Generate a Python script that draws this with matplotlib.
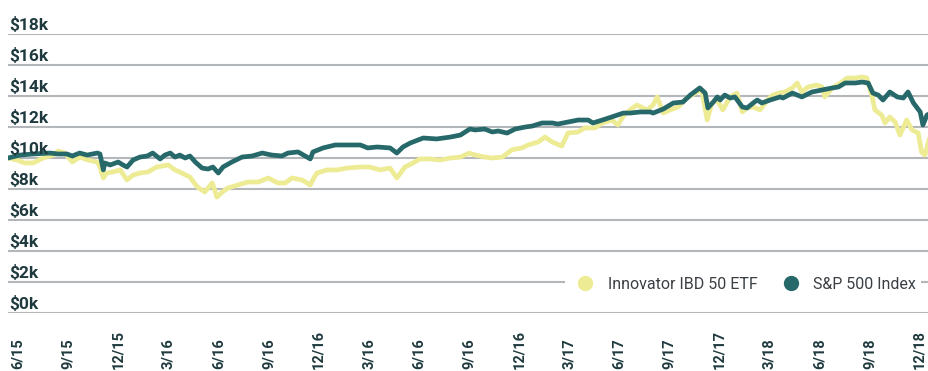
import matplotlib
matplotlib.use("Agg")
import matplotlib.pyplot as plt
import matplotlib.transforms as mtransforms
from matplotlib.lines import Line2D
import numpy as np

# Growth of $10k, days since fund launch (2015-04-09)
sp_days = [0, 18, 37, 62, 74, 87, 95, 106, 117, 132, 136, 141, 143, 151, 163, 170, 176, 185,
           195, 206, 214, 225, 232, 240, 247, 254, 262, 269, 277, 287, 296, 303, 311, 318,
           331, 346, 361, 376, 390, 405, 414, 429, 447, 451, 466, 484, 501, 521, 532, 546,
           565, 575, 584, 595, 614, 634, 654, 669, 683, 691, 705, 716, 725, 738, 750, 765,
           775, 790, 805, 813, 828, 843, 858, 865, 879, 893, 910, 920, 935, 950, 954, 969,
           984, 998, 1009, 1023, 1031, 1035, 1043, 1049, 1053, 1060, 1068, 1075, 1086, 1093,
           1102, 1108, 1115, 1127, 1142, 1146, 1160, 1174, 1189, 1204, 1219, 1228, 1238,
           1253, 1263, 1272, 1279, 1287, 1294, 1304, 1315, 1324, 1331, 1339, 1349, 1353,
           1359, 1362]
sp_values = [10000, 10190, 10260, 10320, 10260, 10260, 10130, 10320, 10190, 10320, 10260,
             9230, 9680, 9550, 9740, 9550, 9420, 9870, 10060, 10130, 10320, 9940, 10190,
             10320, 10060, 10190, 10000, 10130, 9740, 9350, 9290, 9420, 9030, 9420, 9740,
             10060, 10130, 10320, 10190, 10130, 10320, 10390, 9940, 10390, 10650, 10840,
             10840, 10840, 10650, 10710, 10650, 10320, 10710, 10970, 11290, 11230, 11350,
             11480, 11870, 11810, 11870, 11680, 11740, 11610, 11870, 12000, 12060, 12260,
             12260, 12190, 12320, 12450, 12450, 12260, 12450, 12650, 12900, 12900, 12970,
             12970, 12900, 13160, 13550, 13610, 14060, 14520, 14190, 13230, 13610, 13940,
             13740, 14060, 13870, 13940, 13290, 13230, 13550, 13740, 13550, 13740, 13940,
             13870, 14190, 13940, 14260, 14390, 14520, 14580, 14840, 14840, 14900, 14840,
             14190, 14060, 13740, 14260, 13940, 13870, 14260, 13550, 12970, 12130, 12770,
             12840]

etf_days = [0, 13, 25, 37, 52, 67, 74, 84, 95, 106, 118, 132, 136, 141, 146, 155, 166, 176,
            185, 195, 207, 220, 237, 247, 257, 269, 280, 291, 302, 309, 317, 325, 340, 355,
            370, 385, 399, 410, 420, 435, 447, 453, 457, 472, 487, 501, 521, 535, 550, 565,
            575, 587, 599, 609, 624, 639, 654, 669, 682, 691, 705, 716, 731, 745, 760, 769,
            784, 794, 805, 819, 828, 843, 853, 868, 879, 893, 902, 911, 920, 930, 945, 954,
            960, 969, 979, 991, 1004, 1019, 1026, 1034, 1041, 1049, 1057, 1068, 1078, 1086,
            1093, 1102, 1112, 1123, 1131, 1140, 1149, 1160, 1167, 1174, 1183, 1196, 1204,
            1208, 1219, 1231, 1241, 1253, 1263, 1270, 1278, 1282, 1292, 1297, 1304, 1312,
            1319, 1329, 1337, 1346, 1351, 1356, 1362]
etf_values = [10000, 9870, 9680, 9680, 10000, 10190, 10450, 10320, 9740, 10060, 9870, 9740,
              9420, 8710, 9030, 9100, 9230, 8580, 8900, 9030, 9100, 9420, 9550, 9230, 9030,
              8770, 8130, 7810, 8390, 7480, 7810, 8060, 8260, 8450, 8450, 8710, 8390, 8390,
              8710, 8580, 8260, 8770, 9030, 9230, 9230, 9350, 9420, 9420, 9230, 9350, 8710,
              9420, 9680, 9940, 9940, 9870, 10000, 10060, 10320, 10190, 10060, 10000, 10060,
              10520, 10650, 10840, 11030, 11350, 11030, 10770, 11610, 11680, 11940, 11940,
              12260, 12450, 12130, 12770, 13100, 13420, 13100, 13420, 13940, 12900, 13100,
              13290, 13870, 14260, 14390, 12450, 13550, 13740, 13100, 13940, 14190, 12970,
              13230, 13290, 13100, 13740, 14060, 14190, 14260, 14520, 14840, 14260, 14580,
              14710, 14580, 13940, 14520, 14840, 15160, 15160, 15230, 15160, 13940, 13100,
              12770, 12260, 12650, 12320, 11480, 12450, 11810, 11610, 10390, 10190, 11160]

y_ticks = [0, 2000, 4000, 6000, 8000, 10000, 12000, 14000, 16000, 18000]
y_labels = ["$0k", "$2k", "$4k", "$6k", "$8k", "$10k", "$12k", "$14k", "$16k", "$18k"]
x_labels = ["6/15", "9/15", "12/15", "3/16", "6/16", "9/16", "12/16", "3/16", "6/16",
            "9/16", "12/16", "3/17", "6/17", "9/17", "12/17", "3/18", "6/18", "9/18", "12/18"]
series_names = ["Innovator IBD 50 ETF", "S&P 500 Index"]

ETF_COLOR = "#eeeb95"
SP_COLOR = "#27696a"
LABEL_COLOR = "#1f3a3e"
GRID_COLOR = "#b3b7ba"
FONTS = ["Roboto", "DejaVu Sans"]

fig = plt.figure(figsize=(9.29, 3.71), dpi=100)
ax = fig.add_axes([8 / 929, 58 / 371, 921 / 929, 279 / 371])
ax.set_xlim(0, 1362)
ax.set_ylim(0, 18000)

for v in y_ticks:
    ax.axhline(v, color=GRID_COLOR, lw=1.5, zorder=1)

ax.plot(etf_days, etf_values, color=ETF_COLOR, lw=3.4, solid_joinstyle="round", zorder=2)
ax.plot(sp_days, sp_values, color=SP_COLOR, lw=3.4, solid_joinstyle="round", zorder=3)

for side in ax.spines.values():
    side.set_visible(False)
ax.set_yticks([])
ax.set_xticks([])

# y labels sit just above their gridlines at the left edge
lift = mtransforms.offset_copy(ax.get_yaxis_transform(), fig=fig, x=1, y=4, units="dots")
for v, lab in zip(y_ticks, y_labels):
    ax.text(0, v, lab, transform=lift, ha="left", va="baseline", fontsize=12.5,
            fontweight="bold", color=LABEL_COLOR, family=FONTS, zorder=4)

# vertical period labels, each starting from the bottom edge and reading upward
xlab_tr = mtransforms.blended_transform_factory(ax.transData, fig.transFigure)
for pos, lab in zip(np.linspace(15, 1348, len(x_labels)), x_labels):
    ax.text(pos, 2 / 371, lab, transform=xlab_tr, rotation=90, ha="center", va="bottom",
            fontsize=10.5, fontweight="bold", color=LABEL_COLOR, family=FONTS,
            clip_on=False)

handles = [Line2D([], [], ls="none", marker="o", ms=10, color=c, mec=c)
           for c in (ETF_COLOR, SP_COLOR)]
leg = fig.legend(handles, series_names, loc="center right", bbox_to_anchor=(1.0, 0.234),
                 ncol=2, frameon=True, facecolor="white", edgecolor="none", framealpha=1,
                 handletextpad=0.4, columnspacing=1.1, borderpad=0.3,
                 prop={"family": FONTS, "size": 11.5})
for t in leg.get_texts():
    t.set_color("#3a3f44")

fig.savefig("out.png", dpi=100)
